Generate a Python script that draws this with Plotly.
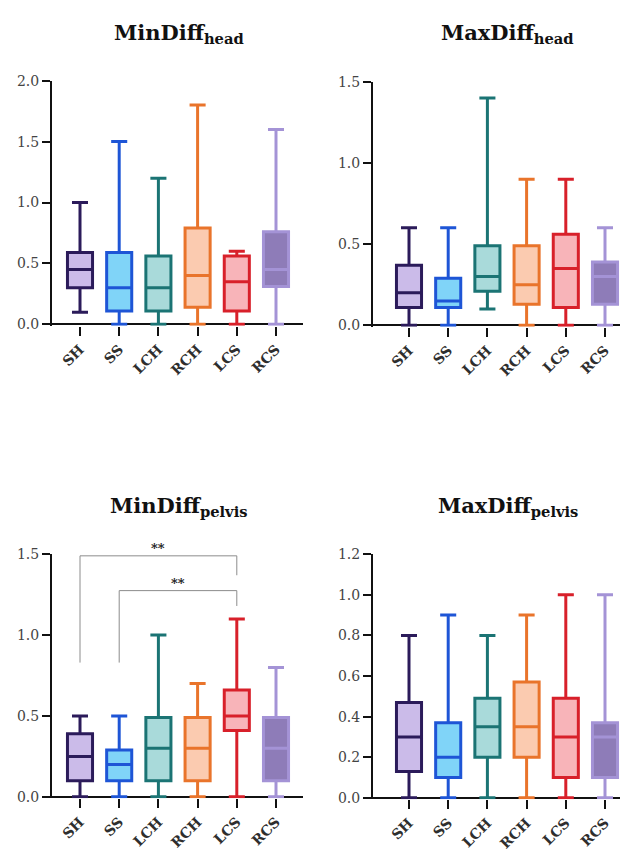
import plotly.graph_objects as go

W, H = 620, 852

categories = ["SH", "SS", "LCH", "RCH", "LCS", "RCS"]
line_colors = ["#2b1b5a", "#1e55d6", "#1b7474", "#e9742b", "#d8202a", "#a493d6"]
fill_colors = ["#cbbbe9", "#80d4f8", "#a9dada", "#fbcbb0", "#f8b4b9", "#8e7cb8"]

# five-number summaries per group: min, q1, median, q3, max
mindiff_head_min = [0.10, 0.00, 0.00, 0.00, 0.00, 0.00]
mindiff_head_q1 = [0.30, 0.11, 0.11, 0.14, 0.11, 0.31]
mindiff_head_med = [0.45, 0.30, 0.30, 0.40, 0.35, 0.45]
mindiff_head_q3 = [0.59, 0.59, 0.56, 0.79, 0.56, 0.76]
mindiff_head_max = [1.00, 1.50, 1.20, 1.80, 0.60, 1.60]

maxdiff_head_min = [0.00, 0.00, 0.10, 0.00, 0.00, 0.00]
maxdiff_head_q1 = [0.11, 0.11, 0.21, 0.13, 0.11, 0.13]
maxdiff_head_med = [0.20, 0.15, 0.30, 0.25, 0.35, 0.30]
maxdiff_head_q3 = [0.37, 0.29, 0.49, 0.49, 0.56, 0.39]
maxdiff_head_max = [0.60, 0.60, 1.40, 0.90, 0.90, 0.60]

mindiff_pelvis_min = [0.00, 0.00, 0.00, 0.00, 0.00, 0.00]
mindiff_pelvis_q1 = [0.10, 0.10, 0.10, 0.10, 0.41, 0.10]
mindiff_pelvis_med = [0.25, 0.20, 0.30, 0.30, 0.50, 0.30]
mindiff_pelvis_q3 = [0.39, 0.29, 0.49, 0.49, 0.66, 0.49]
mindiff_pelvis_max = [0.50, 0.50, 1.00, 0.70, 1.10, 0.80]

maxdiff_pelvis_min = [0.00, 0.00, 0.00, 0.00, 0.00, 0.00]
maxdiff_pelvis_q1 = [0.13, 0.10, 0.20, 0.20, 0.10, 0.10]
maxdiff_pelvis_med = [0.30, 0.20, 0.35, 0.35, 0.30, 0.30]
maxdiff_pelvis_q3 = [0.47, 0.37, 0.49, 0.57, 0.49, 0.37]
maxdiff_pelvis_max = [0.80, 0.90, 0.80, 0.90, 1.00, 1.00]

# significance brackets for MinDiff pelvis: (group a, group b, bracket height, label)
pelvis_sig_pairs = [("SH", "LCS", 1.49, "**"), ("SS", "LCS", 1.275, "**")]
pelvis_sig_leg_bottom = [0.83, 0.83]
pelvis_sig_right_bottom = [1.37, 1.18]

panels = [
    dict(title="MinDiff<sub>head</sub>", stats=(mindiff_head_min, mindiff_head_q1, mindiff_head_med,
                                               mindiff_head_q3, mindiff_head_max),
         ytop=2.0, dtick=0.5, xpx=(52, 303, 80), ypx=(74, 322), title_px=(179, 26)),
    dict(title="MaxDiff<sub>head</sub>", stats=(maxdiff_head_min, maxdiff_head_q1, maxdiff_head_med,
                                               maxdiff_head_q3, maxdiff_head_max),
         ytop=1.5, dtick=0.5, xpx=(373, 620, 409), ypx=(75, 323), title_px=(507, 26)),
    dict(title="MinDiff<sub>pelvis</sub>", stats=(mindiff_pelvis_min, mindiff_pelvis_q1, mindiff_pelvis_med,
                                                 mindiff_pelvis_q3, mindiff_pelvis_max),
         ytop=1.5, dtick=0.5, xpx=(52, 303, 80), ypx=(556, 803), title_px=(179, 507)),
    dict(title="MaxDiff<sub>pelvis</sub>", stats=(maxdiff_pelvis_min, maxdiff_pelvis_q1, maxdiff_pelvis_med,
                                                 maxdiff_pelvis_q3, maxdiff_pelvis_max),
         ytop=1.2, dtick=0.2, xpx=(373, 620, 409), ypx=(556, 804), title_px=(508, 507)),
]

SPACING = 39.2
SERIF = "DejaVu Serif"

fig = go.Figure()
layout = dict(
    width=W, height=H, margin=dict(l=0, r=0, t=0, b=0),
    paper_bgcolor="white", plot_bgcolor="white", showlegend=False,
    boxmode="overlay", annotations=[], shapes=[],
)

for i, p in enumerate(panels):
    n = "" if i == 0 else str(i + 1)
    xa, ya = "x" + n, "y" + n
    lo, q1, med, q3, hi = p["stats"]
    for j, cat in enumerate(categories):
        fig.add_trace(go.Box(
            x=[j], lowerfence=[lo[j]], q1=[q1[j]], median=[med[j]], q3=[q3[j]], upperfence=[hi[j]],
            name=cat, width=0.64, whiskerwidth=0.64,
            line=dict(color=line_colors[j], width=3), fillcolor=fill_colors[j],
            xaxis=xa, yaxis=ya, hoverinfo="skip",
        ))
    L, R, P0 = p["xpx"]
    T, Z = p["ypx"]
    k = (Z - T) / p["ytop"]
    eps = 1.5 / k
    ntick = int(round(p["ytop"] / p["dtick"]))
    layout["xaxis" + n] = dict(
        domain=[L / W, R / W], range=[(L - P0) / SPACING, (R - P0) / SPACING],
        anchor=ya, tickvals=list(range(len(categories))), ticktext=categories,
        tickangle=-45, ticks="outside", ticklen=9, tickwidth=2, tickcolor="#111",
        showline=False, showgrid=False, zeroline=False,
        tickfont=dict(family=SERIF, size=14, color="#2e2e2e", weight="bold"),
    )
    layout["yaxis" + n] = dict(
        domain=[1 - (Z + 1.5) / H, 1 - T / H], range=[-eps, p["ytop"]],
        anchor=xa, tickvals=[round(t * p["dtick"], 2) for t in range(ntick + 1)],
        tickformat=".1f", ticks="outside", ticklen=8, tickwidth=2, tickcolor="#111",
        showline=True, linecolor="#111", linewidth=2, showgrid=False,
        zeroline=True, zerolinecolor="#111", zerolinewidth=2,
        tickfont=dict(family=SERIF, size=14, color="#444"),
    )
    tx, ty = p["title_px"]
    layout["annotations"].append(dict(
        text="<b>" + p["title"] + "</b>", x=tx / W, y=1 - ty / H, xref="paper", yref="paper",
        xanchor="center", yanchor="middle", showarrow=False,
        font=dict(family=SERIF, size=21, color="#111"),
    ))

# significance brackets on the MinDiff pelvis panel
for (a, b, h, lab), lb, rb in zip(pelvis_sig_pairs, pelvis_sig_leg_bottom, pelvis_sig_right_bottom):
    xa_i, xb_i = categories.index(a), categories.index(b)
    layout["shapes"].append(dict(
        type="path", xref="x3", yref="y3",
        path=f"M {xa_i} {lb} L {xa_i} {h} L {xb_i} {h} L {xb_i} {rb}",
        line=dict(color="#8c8c8c", width=1),
    ))
    layout["annotations"].append(dict(
        text="<b>" + lab + "</b>", x=(xa_i + xb_i) / 2, y=h, xref="x3", yref="y3",
        xanchor="center", yanchor="bottom", showarrow=False, yshift=-2,
        font=dict(family=SERIF, size=13, color="#222"),
    ))

fig.update_layout(**layout)
fig.write_html("out.html")
